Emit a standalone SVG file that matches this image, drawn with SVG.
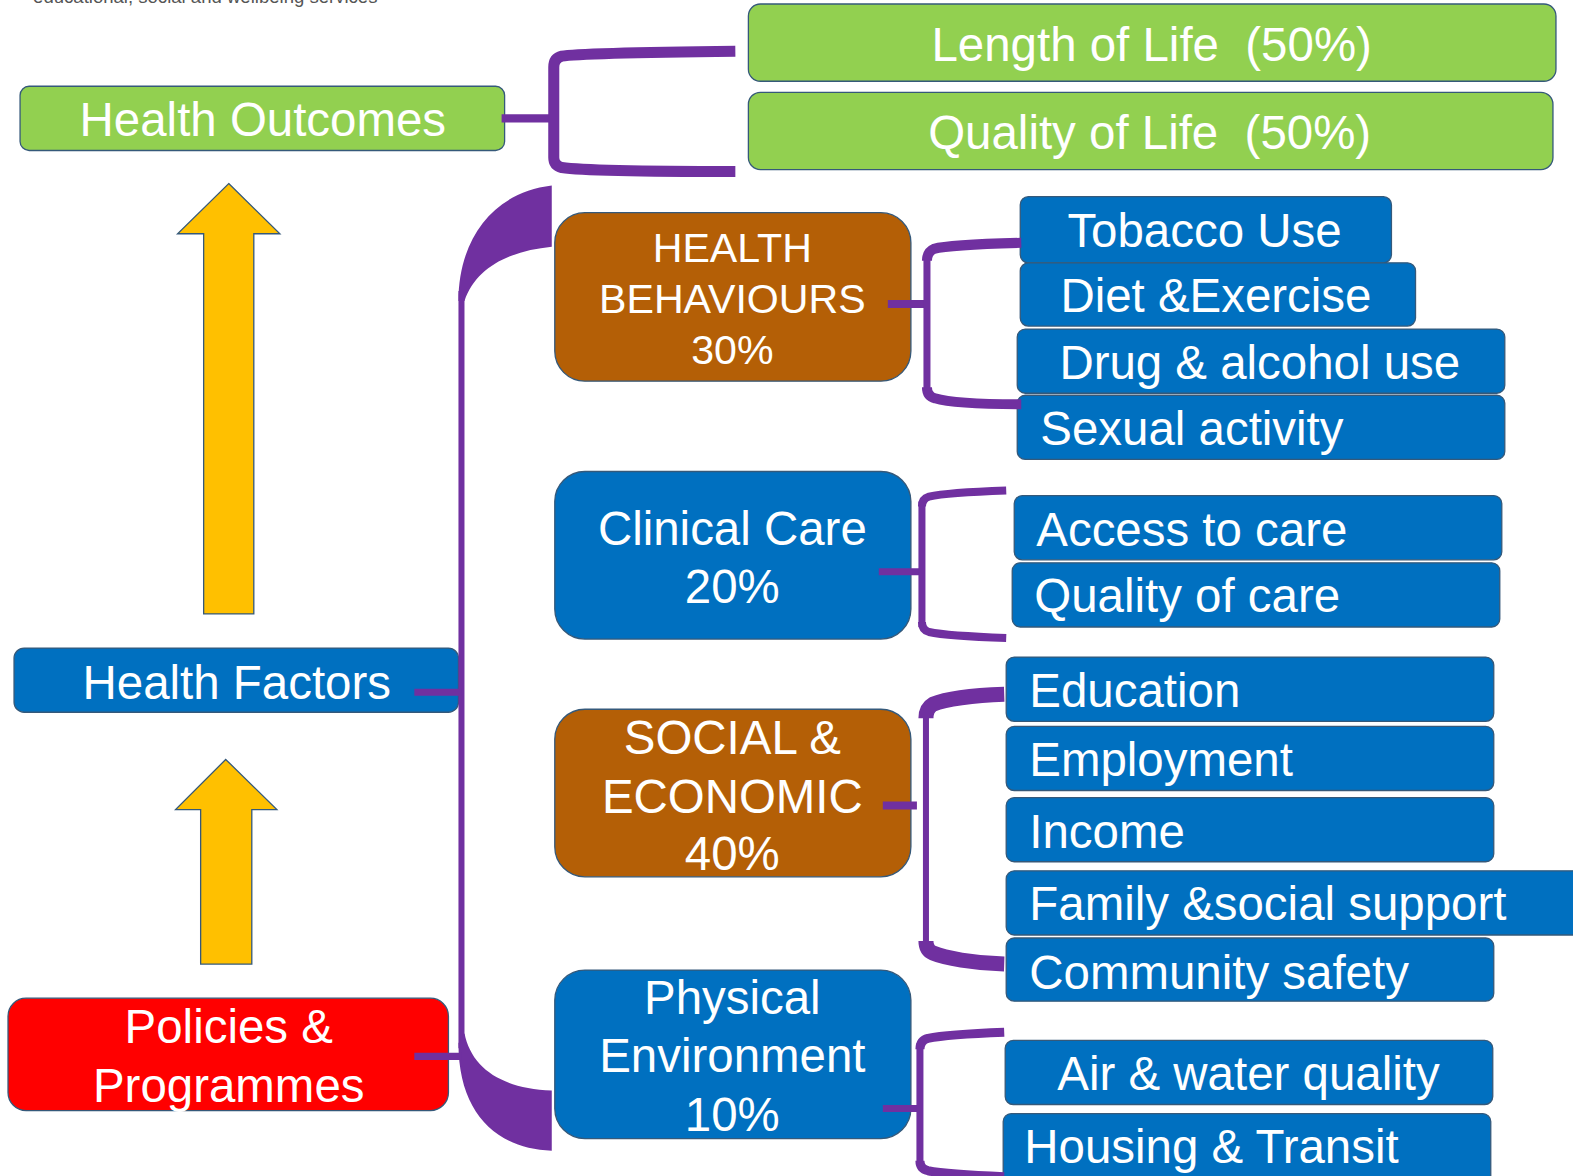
<svg xmlns="http://www.w3.org/2000/svg" width="1573" height="1176" viewBox="0 0 1573 1176">
<style>
text{font-family:"Liberation Sans",Arial,sans-serif;fill:#fff}
.t47{font-size:47.3px}
.t41{font-size:41px}
.c{text-anchor:middle}
.box{stroke:#35597A;stroke-width:1.3}
.g{fill:#92D050}
.b{fill:#0070C0}
.br{fill:#B45F06}
.r{fill:#FF0000}
.arrow{fill:#FFC000;stroke:#35597A;stroke-width:1.3}
.con{fill:none;stroke:#7030A0}
.sw{fill:#7030A0}
</style>
<rect width="1573" height="1176" fill="#fff"/>
<g transform="scale(1.0032)">
<text x="33" y="3" style="font-family:'Liberation Sans',Arial,sans-serif;font-size:18.5px;fill:#555">educational, social and wellbeing services</text>

<g id="arrow-top"><polygon class="arrow" points="228,183 279,233 253,233 253,612 203,612 203,233 177,233"/></g>
<g id="arrow-bottom"><polygon class="arrow" points="225,757 276,807 251,807 251,961 200,961 200,807 175,807"/></g>

<g id="health-outcomes"><rect class="box g" x="20" y="86" width="483" height="64" rx="9"/><text class="t47 c" x="262" y="136">Health Outcomes</text></g>
<g id="length-of-life"><rect class="box g" x="746" y="4" width="805" height="77" rx="12"/><text class="t47 c" x="1148" y="61" xml:space="preserve">Length of Life  (50%)</text></g>
<g id="quality-of-life"><rect class="box g" x="746" y="92" width="802" height="77" rx="12"/><text class="t47 c" x="1146" y="149" xml:space="preserve">Quality of Life  (50%)</text></g>

<g id="health-factors"><rect class="box b" x="14" y="646" width="443" height="64" rx="10"/><text class="t47 c" x="236" y="697">Health Factors</text></g>
<g id="policies"><rect class="box r" x="8" y="995" width="439" height="112" rx="18"/><text class="t47 c" x="228" y="1040">Policies &amp;</text><text class="t47 c" x="228" y="1098">Programmes</text></g>

<g id="health-behaviours"><rect class="box br" x="553" y="212" width="355" height="168" rx="30"/><text class="t41 c" x="730" y="261">HEALTH</text><text class="t41 c" x="730" y="312">BEHAVIOURS</text><text class="t41 c" x="730" y="363">30%</text></g>
<g id="clinical-care"><rect class="box b" x="553" y="470" width="355" height="167" rx="30"/><text class="t47 c" x="730" y="543">Clinical Care</text><text class="t47 c" x="730" y="601">20%</text></g>
<g id="social-economic"><rect class="box br" x="553" y="707" width="355" height="167" rx="30"/><text class="t47 c" x="730" y="752">SOCIAL &amp;</text><text class="t47 c" x="730" y="810">ECONOMIC</text><text class="t47 c" x="730" y="867">40%</text></g>
<g id="physical-environment"><rect class="box b" x="553" y="967" width="355" height="168" rx="30"/><text class="t47 c" x="730" y="1011">Physical</text><text class="t47 c" x="730" y="1069">Environment</text><text class="t47 c" x="730" y="1127">10%</text></g>

<g id="tobacco"><rect class="box b" x="1017" y="196" width="370" height="66" rx="8"/><text class="t47" x="1064" y="246">Tobacco Use</text></g>
<g id="diet"><rect class="box b" x="1017" y="262" width="394" height="63" rx="8"/><text class="t47" x="1057" y="311">Diet &amp;Exercise</text></g>
<g id="drug"><rect class="box b" x="1014" y="328" width="486" height="64" rx="8"/><text class="t47" x="1056" y="378">Drug &amp; alcohol use</text></g>
<g id="sexual"><rect class="box b" x="1014" y="394" width="486" height="64" rx="8"/><text class="t47" x="1037" y="444">Sexual activity</text></g>

<g id="access"><rect class="box b" x="1011" y="494" width="486" height="64" rx="8"/><text class="t47" x="1033" y="544">Access to care</text></g>
<g id="quality-care"><rect class="box b" x="1009" y="561" width="486" height="64" rx="8"/><text class="t47" x="1031" y="610">Quality of care</text></g>

<g id="education"><rect class="box b" x="1003" y="655" width="486" height="64" rx="8"/><text class="t47" x="1026" y="705">Education</text></g>
<g id="employment"><rect class="box b" x="1003" y="724" width="486" height="64" rx="8"/><text class="t47" x="1026" y="774">Employment</text></g>
<g id="income"><rect class="box b" x="1003" y="795" width="486" height="64" rx="8"/><text class="t47" x="1026" y="845">Income</text></g>
<g id="family"><rect class="box b" x="1003" y="868" width="580" height="64" rx="8"/><text class="t47" x="1026" y="917">Family &amp;social support</text></g>
<g id="community"><rect class="box b" x="1003" y="935" width="486" height="63" rx="8"/><text class="t47" x="1026" y="986">Community safety</text></g>

<g id="air"><rect class="box b" x="1002" y="1037" width="486" height="64" rx="8"/><text class="t47" x="1054" y="1087">Air &amp; water quality</text></g>
<g id="housing"><rect class="box b" x="1000" y="1110" width="486" height="80" rx="8"/><text class="t47" x="1021" y="1159">Housing &amp; Transit</text></g>

<g id="connectors">
  <!-- Health Outcomes bracket -->
  <path class="con" stroke-width="8" d="M500,118 H550"/>
  <path class="con" stroke-width="11" d="M733,51 C640,52 575,53 560,56 Q552,58 552,67 V157 Q552,165 560,167 C580,170 640,171 733,171"/>
  <!-- main vertical spine -->
  <path class="con" stroke-width="6" d="M460,290 V1045"/>
  <path class="sw" d="M457,300 C457,240 490,192 550,185 L550,246 C510,250 475,265 463,300 Z"/>
  <path class="sw" d="M463,1030 C470,1065 500,1085 550,1087 L550,1147 C495,1145 457,1110 457,1040 Z"/>
  <path class="con" stroke-width="7" d="M413,690 H460"/>
  <path class="con" stroke-width="7" d="M413,1053 H460"/>
  <!-- Health behaviours bracket -->
  <path class="con" stroke-width="8" d="M885,303 H924"/>
  <path class="con" stroke-width="7" d="M924,255 V390"/>
  <path class="con" stroke-width="10" d="M1018,242 C980,243 942,245 931,248 Q924,251 924,260"/>
  <path class="con" stroke-width="10" d="M924,386 Q924,395 932,397 C945,401 980,403 1018,403"/>
  <!-- Clinical care bracket -->
  <path class="con" stroke-width="7" d="M876,570 H919"/>
  <path class="con" stroke-width="7" d="M919,500 V625"/>
  <path class="con" stroke-width="8" d="M1003,489 C975,490 940,492 926,495 Q919,497 919,505"/>
  <path class="con" stroke-width="8" d="M919,620 Q919,628 926,630 C940,633 975,635 1003,636"/>
  <!-- Social bracket -->
  <path class="con" stroke-width="8" d="M880,803 H914"/>
  <path class="con" stroke-width="6" d="M923,705 V950"/>
  <path class="con" stroke-width="15" d="M1001,692 C970,693 942,697 930,702 Q923,706 923,716"/>
  <path class="con" stroke-width="15" d="M923,938 Q923,947 930,950 C942,955 970,960 1001,961"/>
  <!-- Physical bracket -->
  <path class="con" stroke-width="7" d="M880,1105 H917"/>
  <path class="con" stroke-width="7" d="M917,1040 V1160"/>
  <path class="con" stroke-width="9" d="M1001,1029 C975,1030 940,1032 925,1035 Q917,1037 917,1046"/>
  <path class="con" stroke-width="9" d="M917,1157 Q917,1165 925,1167 C940,1170 975,1172 1001,1173"/>
</g>
</g>
</svg>
